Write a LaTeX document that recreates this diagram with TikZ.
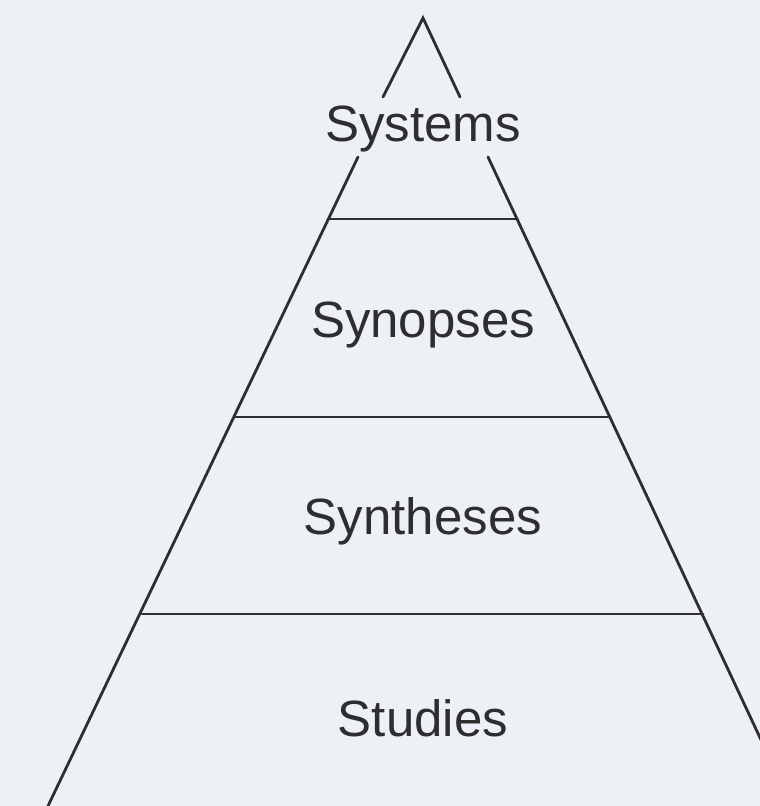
\documentclass[tikz,border=0pt]{standalone}
\usepackage{fontspec}
\setmainfont{Liberation Sans}
\definecolor{bg}{HTML}{EDF1F6}
\definecolor{ink}{HTML}{2E2E2E}
\begin{document}
\begin{tikzpicture}[x=1pt,y=-1pt,
  edge/.style={draw=ink,line width=2.8pt,line cap=round},
  level/.style={text=ink,anchor=base,font=\fontsize{51}{60}\selectfont,inner sep=0pt}]
\fill[bg] (0,0) rectangle (760,806);
\useasboundingbox (0,0) rectangle (760,806);
\begin{scope}
\clip (0,0) rectangle (760,806);
% apex and side points
\coordinate (apex) at (423,18);
\coordinate (lgapA) at (383,97);
\coordinate (lgapB) at (358,157);
\coordinate (rgapA) at (460,97);
\coordinate (rgapB) at (488,157);
\coordinate (lbot) at (48,806);
\coordinate (rbot) at (792,806);
\draw[edge] (lgapA) -- (apex) -- (rgapA);
\draw[edge] (lgapB) -- (lbot);
\draw[edge] (rgapB) -- (rbot);
% horizontal dividers
\coordinate (h1l) at (328,219); \coordinate (h1r) at (517,219);
\coordinate (h2l) at (235,417); \coordinate (h2r) at (610,417);
\coordinate (h3l) at (142,614); \coordinate (h3r) at (703,614);
\draw[edge] (h1l) -- (h1r);
\draw[edge] (h2l) -- (h2r);
\draw[edge] (h3l) -- (h3r);
\end{scope}
\node[level] (systems) at (423,141) {Systems};
\node[level] (synopses) at (423,337) {Synopses};
\node[level] (syntheses) at (423,534) {Syntheses};
\node[level] (studies) at (423,736) {Studies};
\end{tikzpicture}
\end{document}
